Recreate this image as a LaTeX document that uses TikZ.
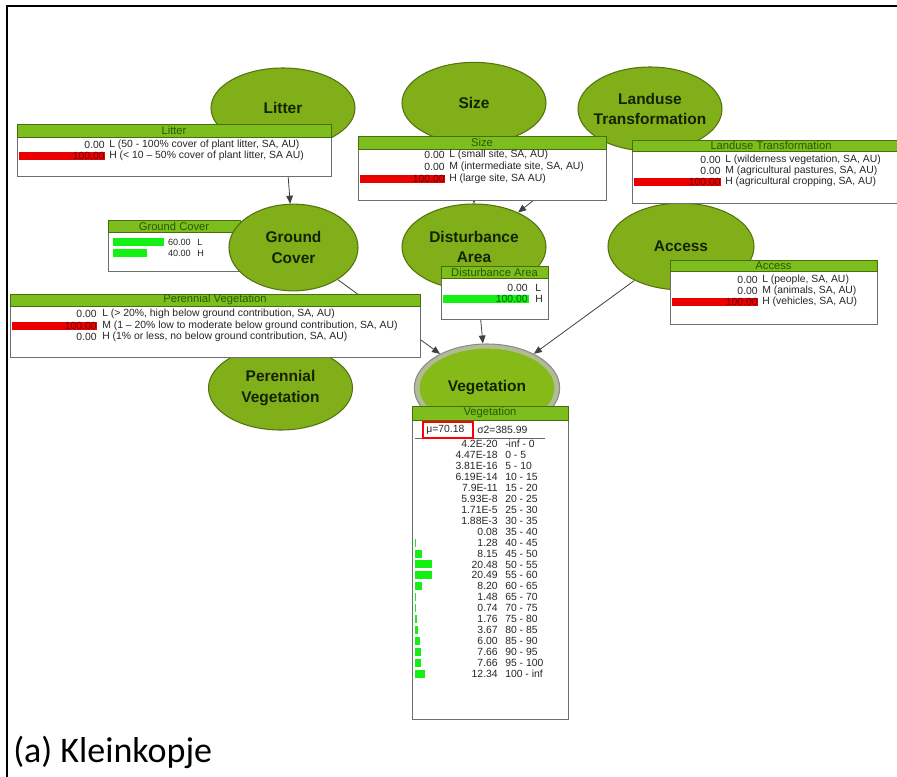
\documentclass[tikz,border=0pt]{standalone}
\usepackage{fontspec}
\setmainfont{Liberation Sans}
\newfontfamily\capfont{Carlito}
\usetikzlibrary{shapes.geometric,arrows.meta,fit}
\definecolor{ellFill}{RGB}{128,175,25}
\definecolor{ellEdge}{RGB}{85,115,15}
\definecolor{hdrFill}{RGB}{125,190,30}
\definecolor{hdrEdge}{RGB}{70,110,10}
\definecolor{hdrText}{RGB}{40,90,0}
\definecolor{tblEdge}{RGB}{110,110,110}
\definecolor{redBar}{RGB}{235,0,0}
\definecolor{redNum}{RGB}{100,0,0}
\definecolor{greenBar}{RGB}{20,240,20}
\definecolor{greenNum}{RGB}{0,100,0}
\definecolor{vegEdge}{RGB}{140,140,135}
\definecolor{vegRingFill}{RGB}{175,188,150}
\definecolor{vegIn}{RGB}{134,186,24}
\definecolor{lblText}{RGB}{20,35,0}
\newcommand\tabfont{\fontsize{7.8}{8.5}\selectfont}
\newcommand\smallnumfont{\fontsize{6.8}{8}\selectfont}
\newcommand\hdrfont{\fontsize{8.4}{9}\selectfont}
\newcommand\ellfont{\fontsize{11.6}{15.5}\selectfont\bfseries}
\pgfdeclarelayer{bg}
\pgfsetlayers{bg,main}
\begin{document}
\begin{tikzpicture}[x=0.75pt,y=-0.75pt,
  ell/.style={ellipse, draw=ellEdge, fill=ellFill, line width=0.8pt, inner xsep=-10pt, inner ysep=0pt, align=center, font=\ellfont, text=lblText, minimum width=108pt, minimum height=63pt},
  tblbox/.style={draw=tblEdge, fill=white, line width=0.7pt, inner sep=0pt},
  hdrbar/.style={draw=hdrEdge, fill=hdrFill, line width=0.5pt, inner sep=0pt},
  hdrtxt/.style={font=\hdrfont, text=hdrText, inner sep=0pt},
  num/.style={font=\tabfont, inner sep=0pt, anchor=east, text=black!85},
  lab/.style={font=\tabfont, inner sep=0pt, anchor=west, text=black!85},
  rbar/.style={fill=redBar},
  gbar/.style={fill=greenBar},
  link/.style={draw=black!75, line width=0.6pt, -{Triangle[length=6pt,width=5pt]}},
  frameline/.style={draw=black, line width=1.5pt}
]
\useasboundingbox (0,0) rectangle (897,776);

% ---------- ellipses ----------
\node[ell, minimum height=60pt] (litter) at (283,108) {Litter};
\node[ell, minimum height=61pt] (size) at (474,103) {Size};
\node[ell] (landuse) at (650,109) {Landuse\\Transformation};
\node[ell, minimum height=64.5pt] (dist) at (474,247) {Disturbance\\Area};
\node[ell, minimum height=65pt, minimum width=109.5pt] (access) at (681,246.5) {Access};
\node[ell] (perveg) at (280.5,388) {Perennial\\Vegetation};
\node[ell, draw=vegEdge, fill=vegRingFill, minimum width=109pt, minimum height=66pt] (veg) at (487,388) {};
\node[ellipse, fill=vegIn, inner sep=0pt, minimum width=101pt, minimum height=59pt, font=\ellfont, text=lblText] (vegIn) at (veg.center) {Vegetation};

% ---------- Ground Cover table + ellipse ----------
\node[tblbox, fit={(108,220) (240,271)}] (gcT) {};
\node[hdrbar, fit={(108,220) (240,232)}] (gcH) {};
\node[hdrtxt] (gcHT) at (gcH.center) {Ground Cover};
\fill[gbar] (113,238) rectangle (164,246);
\fill[gbar] (113,249) rectangle (147,257);
\node[num, font=\smallnumfont] (gcN1) at (191,242) {60.00}; \node[lab, font=\smallnumfont] (gcL1) at (197,242) {L};
\node[num, font=\smallnumfont] (gcN2) at (191,253) {40.00}; \node[lab, font=\smallnumfont] (gcL2) at (197,253) {H};
\node[ell, minimum width=96.75pt, minimum height=65pt] (gc) at (293.5,247.5) {Ground\\Cover};

% ---------- connectors ----------
\begin{pgfonlayer}{bg}
\draw[link] (litter) -- (gc);
\draw[link] (size) -- (dist);
\draw[link] (landuse) -- (dist);
\draw[link] (gc) -- (veg);
\draw[link] (dist) -- (veg);
\draw[link] (access) -- (veg);
\end{pgfonlayer}

% ---------- Litter table ----------
\node[tblbox, fit={(17,124) (331,176)}] (litterT) {};
\node[hdrbar, fit={(17,124) (331,137)}] (litterH) {};
\node[hdrtxt] (litterHT) at (litterH.center) {Litter};
\fill[rbar] (19,152) rectangle (105,160);
\node[num] (litN1) at (105,145) {0.00};
\node[lab] (litL1) at (109,145) {L (50 - 100\% cover of plant litter, SA, AU)};
\node[num, text=redNum] (litN2) at (105,156) {100.00};
\node[lab] (litL2) at (109,156) {H (< 10 – 50\% cover of plant litter, SA AU)};

% ---------- Size table ----------
\node[tblbox, fit={(358,136) (606,200)}] (sizeT) {};
\node[hdrbar, fit={(358,136) (606,149)}] (sizeH) {};
\node[hdrtxt] (sizeHT) at (sizeH.center) {Size};
\fill[rbar] (360,175) rectangle (445,183);
\node[num] (szN1) at (445,155) {0.00};
\node[lab] (szL1) at (449,155) {L (small site, SA, AU)};
\node[num] (szN2) at (445,167) {0.00};
\node[lab] (szL2) at (449,167) {M (intermediate site, SA, AU)};
\node[num, text=redNum] (szN3) at (445,179) {100.00};
\node[lab] (szL3) at (449,179) {H (large site, SA AU)};

% ---------- Landuse table ----------
\node[tblbox, fit={(632,140) (910,203)}] (luT) {};
\node[hdrbar, fit={(632,140) (910,151)}] (luH) {};
\node[hdrtxt] (luHT) at (luH.center) {Landuse Transformation};
\fill[rbar] (634,178) rectangle (721,186);
\node[num] (luN1) at (721,160) {0.00};
\node[lab] (luL1) at (725,160) {L (wilderness vegetation, SA, AU)};
\node[num] (luN2) at (721,171) {0.00};
\node[lab] (luL2) at (725,171) {M (agricultural pastures, SA, AU)};
\node[num, text=redNum] (luN3) at (721,182) {100.00};
\node[lab] (luL3) at (725,182) {H (agricultural cropping, SA, AU)};

% ---------- Disturbance Area table ----------
\node[tblbox, fit={(441,266) (548,319)}] (daT) {};
\node[hdrbar, fit={(441,266) (548,278)}] (daH) {};
\node[hdrtxt] (daHT) at (daH.center) {Disturbance Area};
\fill[gbar] (443,295) rectangle (529,303);
\node[num] (daN1) at (528,288) {0.00}; \node[lab] (daL1) at (535,288) {L};
\node[num, text=greenNum] (daN2) at (528,299) {100.00}; \node[lab] (daL2) at (535,299) {H};

% ---------- Access table ----------
\node[tblbox, fit={(670,260) (877,324)}] (acT) {};
\node[hdrbar, fit={(670,260) (877,271)}] (acH) {};
\node[hdrtxt] (acHT) at (acH.center) {Access};
\fill[rbar] (672,298) rectangle (758,306);
\node[num] (acN1) at (758,280) {0.00};
\node[lab] (acL1) at (762,280) {L (people, SA, AU)};
\node[num] (acN2) at (758,291) {0.00};
\node[lab] (acL2) at (762,291) {M (animals, SA, AU)};
\node[num, text=redNum] (acN3) at (758,302) {100.00};
\node[lab] (acL3) at (762,302) {H (vehicles, SA, AU)};

% ---------- Perennial Vegetation table ----------
\node[tblbox, fit={(10,294) (420,357)}] (pvT) {};
\node[hdrbar, fit={(10,294) (420,306)}] (pvH) {};
\node[hdrtxt] (pvHT) at (pvH.center) {Perennial Vegetation};
\fill[rbar] (12,322) rectangle (97,330);
\node[num] (pvN1) at (97,314) {0.00};
\node[lab] (pvL1) at (102,314) {L (> 20\%, high below ground contribution, SA, AU)};
\node[num, text=redNum] (pvN2) at (97,326) {100.00};
\node[lab] (pvL2) at (102,326) {M (1 – 20\% low to moderate below ground contribution, SA, AU)};
\node[num] (pvN3) at (97,337) {0.00};
\node[lab] (pvL3) at (102,337) {H (1\% or less, no below ground contribution, SA, AU)};

% ---------- Vegetation table ----------
\node[tblbox, fit={(412,406) (568,719)}] (vgT) {};
\node[hdrbar, fit={(412,406) (568,420)}] (vgH) {};
\node[hdrtxt] (vgHT) at (vgH.center) {Vegetation};
\draw[black!60, line width=0.6pt] (415,438) -- (545,438);
\node[lab] (vgMu) at (426,430) {μ=70.18};
\node[lab] (vgSig) at (477,430) {σ2=385.99};
\draw[red, line width=1.5pt] (423,422) rectangle (473,438);
\foreach \w/\i in {1.1/9,6.8/10,17/11,17/12,6.8/13,1.2/14,0.6/15,1.5/16,3/17,5/18,6.4/19,6.4/20,10.2/21}
  \fill[gbar] (415,{444+10.95*\i-4}) rectangle ({415+\w},{444+10.95*\i+4});
\foreach \v/\r [count=\k from 0] in {4.2E-20/-inf - 0,4.47E-18/0 - 5,3.81E-16/5 - 10,6.19E-14/10 - 15,7.9E-11/15 - 20,5.93E-8/20 - 25,1.71E-5/25 - 30,1.88E-3/30 - 35,0.08/35 - 40,1.28/40 - 45,8.15/45 - 50,20.48/50 - 55,20.49/55 - 60,8.20/60 - 65,1.48/65 - 70,0.74/70 - 75,1.76/75 - 80,3.67/80 - 85,6.00/85 - 90,7.66/90 - 95,7.66/95 - 100,12.34/100 - inf}
{
  \node[num] (vgN\k) at (498,{444+10.95*\k}) {\v};
  \node[lab] (vgR\k) at (505,{444+10.95*\k}) {\r};
}

% ---------- caption and frame ----------
\node[font=\capfont\fontsize{27}{30}\selectfont, anchor=base west, inner sep=0pt] (cap) at (13,762) {(a) Kleinkopje};
\draw[frameline] (7,800) -- (7,6) -- (900,6);
\end{tikzpicture}
\end{document}
